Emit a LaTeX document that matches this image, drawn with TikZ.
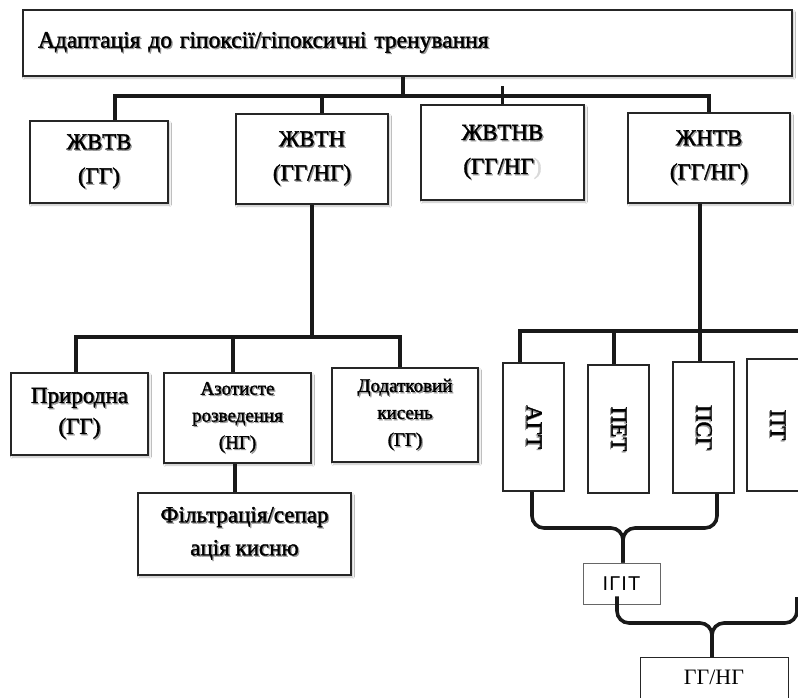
\documentclass[tikz,border=0pt]{standalone}
\usepackage{fontspec}
\setmainfont{Liberation Serif}
\newfontfamily\hv{Liberation Serif}[FakeBold=1.6]
\newfontfamily\sansf{Liberation Sans}[LetterSpace=6]
\usetikzlibrary{shadows.blur}
\newcommand{\shd}[1]{\makebox[0pt][l]{\kern1.3pt\raisebox{-1.3pt}{\color{black!40}#1}}#1}
\begin{document}
\begin{tikzpicture}[x=1pt,y=-1pt,
 box/.style={draw=black!85, line width=1.1pt, fill=white, inner sep=0pt, align=center},
 shbox/.style={box, blur shadow={shadow xshift=1.5pt, shadow yshift=-2pt, shadow opacity=25, shadow blur steps=6}},
 conn/.style={line width=3.6pt, draw=black!90},
 big/.style={font=\hv\fontsize{23}{34}\selectfont},
 bigb/.style={font=\hv\fontsize{23}{31}\selectfont},
 mid/.style={font=\hv\fontsize{19}{27}\selectfont},
 vert/.style={font=\hv\fontsize{23}{26}\selectfont},
]
\clip (0,0) rectangle (798,697);
\fill[white] (0,0) rectangle (798,697);

% top
\node[shbox, font=\hv\fontsize{23.5}{27}\selectfont, align=left, text width=739pt, inner xsep=15pt, minimum height=66pt] (top) at (407.5,43) {\shd{Адаптація до гіпоксії/гіпоксичні тренування}};

% row 1
\node[shbox, big, minimum width=138pt, minimum height=82pt] (zhvtv) at (99,162) {\shd{ЖВТВ}\\\shd{(ГГ)}};
\node[shbox, big, minimum width=152pt, minimum height=90pt] (zhvtn) at (312,159) {\shd{ЖВТН}\\\shd{(ГГ/НГ)}};
\node[shbox, big, minimum width=163pt, minimum height=95pt] (zhvtnv) at (502.5,152.5) {\shd{ЖВТНВ}\\\shd{(ГГ/НГ}{\color{black!15})}};
\node[shbox, big, minimum width=162pt, minimum height=90pt] (zhntv) at (709,158) {\shd{ЖНТВ}\\\shd{(ГГ/НГ)}};

% row 2
\node[shbox, bigb, minimum width=137pt, minimum height=82pt] (pryr) at (79.5,414) {\shd{Природна}\\\shd{(ГГ)}};
\node[shbox, mid, minimum width=147pt, minimum height=90pt] (azot) at (237.5,418) {\shd{Азотисте}\\\shd{розведення}\\\shd{(НГ)}};
\node[shbox, mid, minimum width=146pt, minimum height=94pt] (dod) at (405,415) {\shd{Додатковий}\\\shd{кисень}\\\shd{(ГГ)}};
\node[shbox, font=\hv\fontsize{23}{33}\selectfont, minimum width=213pt, minimum height=82pt] (filtr) at (244.5,534) {\shd{Фільтрація/сепар}\\\shd{ація кисню}};

% vertical boxes
\node[box, vert, minimum width=61pt, minimum height=128pt] (agt) at (533.5,427) {\rotatebox{-90}{\shd{АГТ}}};
\node[box, vert, minimum width=61pt, minimum height=128pt] (pet) at (618.5,429) {\rotatebox{-90}{\shd{ПЕТ}}};
\node[box, vert, minimum width=61pt, minimum height=131pt] (psg) at (703.5,427.5) {\rotatebox{-90}{\shd{ПСГ}}};
\node[box, vert, minimum width=61pt, minimum height=132pt] (pt) at (777.5,425) {\rotatebox{-90}{\shd{ПТ}}};

% bottom boxes
\node[box, draw=black!60, line width=0.8pt, font=\sansf\fontsize{20}{22}\selectfont, minimum width=77pt, minimum height=41pt] (igit) at (621.5,583.5) {ІГІТ};
\node[box, line width=0.8pt, font=\fontsize{22}{26}\selectfont, anchor=north, minimum width=148pt, text height=27pt, text depth=30pt] (ggng) at (714,657) {ГГ/НГ};

% connectors level 1
\coordinate (bar1) at (0,96);
\draw[conn] ([xshift=-4.5pt]top.south) -- ([xshift=-4.5pt]top.south |- bar1);
\draw[conn] ([xshift=16pt]zhvtv.north) |- (zhntv.north |- bar1) -- (zhntv.north);
\draw[conn] ([xshift=10pt]zhvtn.north) -- ([xshift=10pt]zhvtn.north |- bar1);
\draw[conn] (zhvtnv.north) -- ([yshift=18pt]zhvtnv.north);

% connectors level 2 (left)
\coordinate (bar2) at (0,337);
\draw[conn] (zhvtn.south) -- (zhvtn.south |- bar2);
\draw[conn] ([xshift=-3.5pt]pryr.north) |- ([xshift=-5pt]dod.north |- bar2) -- ([xshift=-5pt]dod.north);
\draw[conn] ([xshift=-4.5pt]azot.north) -- ([xshift=-4.5pt]azot.north |- bar2);
\draw[conn] ([xshift=-2.5pt]azot.south) -- ([xshift=-2.5pt]azot.south |- filtr.north);

% connectors level 2 (right)
\coordinate (bar3) at (0,331);
\coordinate (bar3end) at (830,331);
\draw[conn] ([xshift=-9pt]zhntv.south) -- ([xshift=-9pt]zhntv.south |- psg.north);
\draw[conn] ([xshift=-13.5pt]agt.north) |- (bar3end);
\draw[conn] ([xshift=-4.5pt]pet.north) -- ([xshift=-4.5pt]pet.north |- bar3);

% brace 1
\coordinate (br1) at (0,528);
\draw[conn, rounded corners=12pt] ([xshift=-1.5pt]agt.south) -- ([xshift=-1.5pt]agt.south |- br1) -- ([xshift=1.5pt]igit.north |- br1) -- ([xshift=1.5pt]igit.north);
\draw[conn, rounded corners=12pt] ([xshift=13.5pt]psg.south) -- ([xshift=13.5pt]psg.south |- br1) -- ([xshift=1.5pt]igit.north |- br1) -- ([xshift=1.5pt]igit.north);

% brace 2
\coordinate (br2) at (0,623);
\coordinate (igitout) at ([xshift=-4.5pt,yshift=8pt]igit.south);
\coordinate (rin) at (797,597);
\draw[conn, rounded corners=12pt] (igitout) -- (igitout |- br2) -- ([xshift=-2pt]ggng.north |- br2) -- ([xshift=-2pt]ggng.north);
\draw[conn, rounded corners=12pt] (rin) -- (rin |- br2) -- ([xshift=-2pt]ggng.north |- br2) -- ([xshift=-2pt]ggng.north);
\end{tikzpicture}
\end{document}
